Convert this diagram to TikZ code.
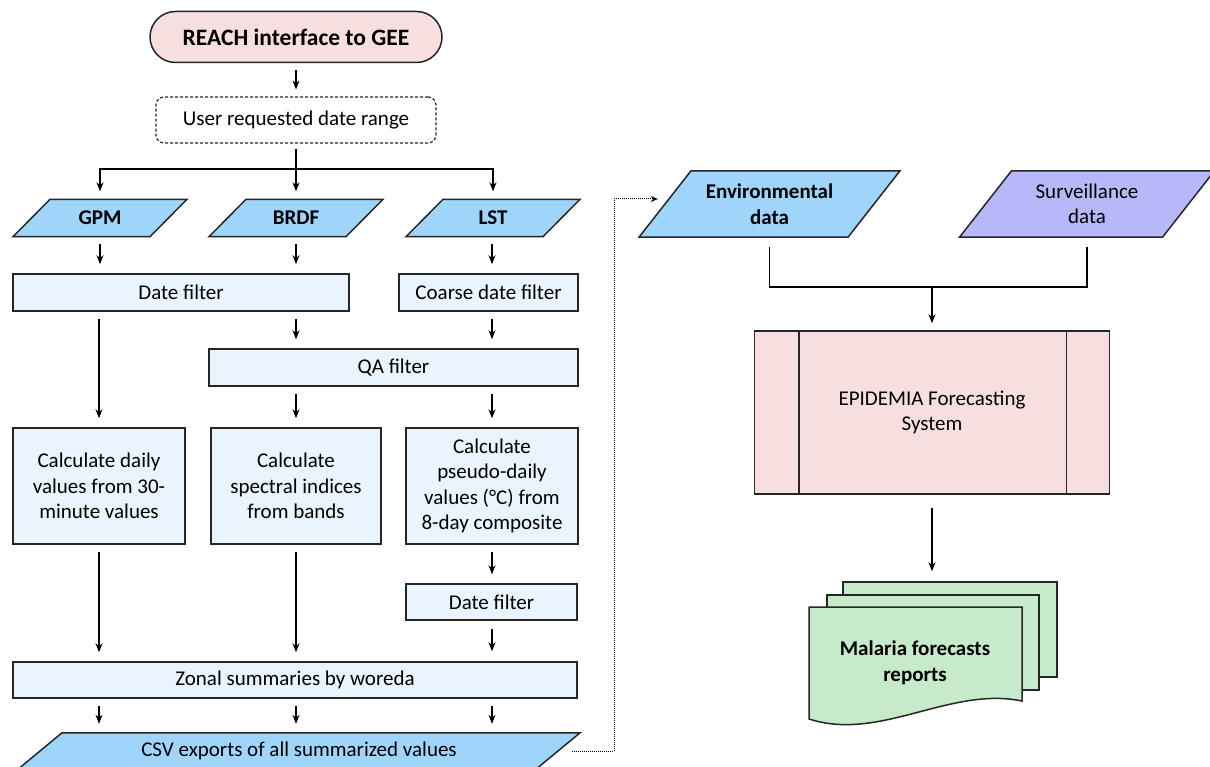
\documentclass[tikz,border=0pt]{standalone}
\usepackage{fontspec}
\setmainfont{Carlito}
\usepackage{tikz}
\usetikzlibrary{positioning, calc}
\usetikzlibrary{arrows.meta, shapes.misc, backgrounds}

\definecolor{termpink}{HTML}{F7DFDF}
\definecolor{inblue}{HTML}{9FD4FB}
\definecolor{stepblue}{HTML}{EAF4FE}
\definecolor{survviolet}{HTML}{B7B8FA}
\definecolor{docgreen}{HTML}{C6EACA}
\definecolor{edgegray}{HTML}{262626}

\tikzset{
	lbl/.style={font=\fontsize{21}{25.5}\selectfont, align=center, inner sep=0pt},
	stepbox/.style={lbl, draw=edgegray, line width=1.5pt, fill=stepblue},
	iotext/.style={lbl, minimum height=37pt, font=\fontsize{21}{25.5}\selectfont\bfseries},
	docpage/.style={draw=edgegray, line width=1.5pt, fill=docgreen, inner sep=0pt},
	arr/.style={line width=1.2pt, -{Stealth[length=9pt,width=7pt]}, shorten <=7pt, shorten >=9pt},
	link/.style={line width=1.2pt},
	dotlink/.style={line width=1pt, densely dotted, -{Stealth[length=7pt,width=6pt]}},
}

% slanted data frame drawn round a text node: node, fill, half width, slant
\newcommand{\ioframe}[4]{%
	\draw [line width=1.5pt, draw=edgegray, fill=#2] ($(#1.south)+(-#3,0)$) -- ($(#1.north)+(#4-#3,0)$) -- ($(#1.north)+(#3,0)$) -- ($(#1.south)+(#3-#4,0)$) -- cycle;}

\begin{document}
\begin{tikzpicture} [x=1pt, y=-1pt]
	\useasboundingbox (0,0) rectangle (1210,767);
	% left column: GEE processing
	\node [lbl, draw=edgegray, line width=1.5pt, fill=termpink, rounded rectangle, minimum width=292pt, minimum height=51pt, font=\fontsize{23.5}{28}\selectfont\bfseries] (reach) at (296,37) {REACH interface to GEE};
	\node [lbl, draw=edgegray, line width=1.2pt, dash pattern=on 3pt off 2pt, rounded corners=8pt, minimum width=280pt, minimum height=46pt] (range) at (296,120) {User requested date range};
	\node [iotext] (gpm) at (100,218) {GPM};
	\node [iotext] (brdf) at (296,218) {BRDF};
	\node [iotext] (lst) at (493,218) {LST};
	\node [stepbox, minimum width=336pt, minimum height=37pt] (datef) at (181,292.5) {Date filter};
	\node [stepbox, minimum width=179pt, minimum height=37pt] (coarsef) at (488.5,292.5) {Coarse date filter};
	\node [stepbox, minimum width=369pt, minimum height=37pt] (qaf) at (393.5,367.5) {QA filter};
	\node [stepbox, minimum width=172pt, minimum height=116pt] (calcgpm) at (99,486) {Calculate daily\\values from 30-\\minute values};
	\node [stepbox, minimum width=170pt, minimum height=116pt] (calcbrdf) at (296,486) {Calculate\\spectral indices\\from bands};
	\node [stepbox, minimum width=172pt, minimum height=116pt] (calclst) at (492,486) {Calculate\\pseudo-daily\\values (°C) from\\8-day composite};
	\node [stepbox, minimum width=171pt, minimum height=36pt] (datelst) at (491.5,602) {Date filter};
	\node [stepbox, minimum width=564pt, minimum height=36pt] (zonal) at (295,680) {Zonal summaries by woreda};
	\node [lbl, minimum width=546pt, minimum height=36pt] (csv) at (299,751) {CSV exports of all summarized values};
	% right column: forecasting
	\node [iotext, minimum width=209pt, minimum height=66pt] (env) at (769.5,204) {Environmental\\data};
	\node [lbl, minimum height=66pt] (surv) at (1087,204) {Surveillance\\data};
	\node [lbl, draw=edgegray, line width=1.5pt, fill=termpink, minimum width=355pt, minimum height=163pt] (epi) at (932,412.5) {EPIDEMIA Forecasting\\System};
	\draw [line width=1.5pt, draw=edgegray] ($(epi.north west)+(45,0)$) -- ($(epi.south west)+(45,0)$);
	\draw [line width=1.5pt, draw=edgegray] ($(epi.north east)+(-44,0)$) -- ($(epi.south east)+(-44,0)$);
	\node [docpage, minimum width=214pt, minimum height=95pt] (pgback) at (950,629.5) {};
	\node [docpage, minimum width=212pt, minimum height=95pt] (pgmid) at (933,642.5) {};
	\draw [docpage] (809,607) -- (1022,607) -- (1022,701) .. controls (950,686) and (880,742) .. (809,719) -- cycle;
	\node [lbl, font=\fontsize{21}{25.5}\selectfont\bfseries] (reports) at (915,663) {Malaria forecasts\\reports};
	\begin{scope}[on background layer]
		\ioframe{gpm}{inblue}{87}{37}
		\ioframe{brdf}{inblue}{87}{37}
		\ioframe{lst}{inblue}{87}{37}
		\ioframe{csv}{inblue}{281}{44}
		\ioframe{env}{inblue}{130.5}{52}
		\ioframe{surv}{survviolet}{127.5}{52}
	\end{scope}
	% connectors
	\coordinate (split) at (296,169);
	\draw [arr, shorten >=7pt] (reach.south) -- (range.north);
	\draw [link, shorten <=5pt] (range.south) -- (split);
	\draw [arr, shorten <=0pt, shorten >=8pt] (split) -| (gpm.north);
	\draw [arr, shorten <=0pt, shorten >=8pt] (split) -- (brdf.north);
	\draw [arr, shorten <=0pt, shorten >=8pt] (split) -| (lst.north);
	\draw [arr] (gpm.south) -- (gpm.south |- datef.north);
	\draw [arr] (brdf.south) -- (brdf.south |- datef.north);
	\draw [arr] (calclst.north |- lst.south) -- (calclst.north |- coarsef.north);
	\draw [arr] (calcgpm.north |- datef.south) -- (calcgpm.north);
	\draw [arr] (calcbrdf.north |- datef.south) -- (calcbrdf.north |- qaf.north);
	\draw [arr] (calclst.north |- coarsef.south) -- (calclst.north |- qaf.north);
	\draw [arr] (calcbrdf.north |- qaf.south) -- (calcbrdf.north);
	\draw [arr] (calclst.north |- qaf.south) -- (calclst.north);
	\draw [arr] (calcgpm.south) -- (calcgpm.south |- zonal.north);
	\draw [arr] (calcbrdf.south) -- (calcbrdf.south |- zonal.north);
	\draw [arr] (calclst.south) -- (calclst.south |- datelst.north);
	\draw [arr, shorten <=8pt, shorten >=10pt] (calclst.south |- datelst.south) -- (calclst.south |- zonal.north);
	\draw [arr] (calcgpm.south |- zonal.south) -- (calcgpm.south |- csv.north);
	\draw [arr] (calcbrdf.south |- zonal.south) -- (calcbrdf.south |- csv.north);
	\draw [arr] (calclst.south |- zonal.south) -- (calclst.south |- csv.north);
	\coordinate (bend) at (614,199);
	\draw [dotlink, shorten >=7pt] (csv.east) -| (bend) -- (bend -| env.west);
	\coordinate (merge) at (932,287);
	\draw [link, shorten <=10pt, shorten >=10pt] (env.south) |- (merge) -| (surv.south);
	\draw [arr, line width=1.6pt, shorten <=0pt, shorten >=7pt] (merge) -- (epi.north);
	\draw [arr, shorten <=13pt, shorten >=10pt] (epi.south) -- (epi.south |- pgback.north);
\end{tikzpicture}
\end{document}
